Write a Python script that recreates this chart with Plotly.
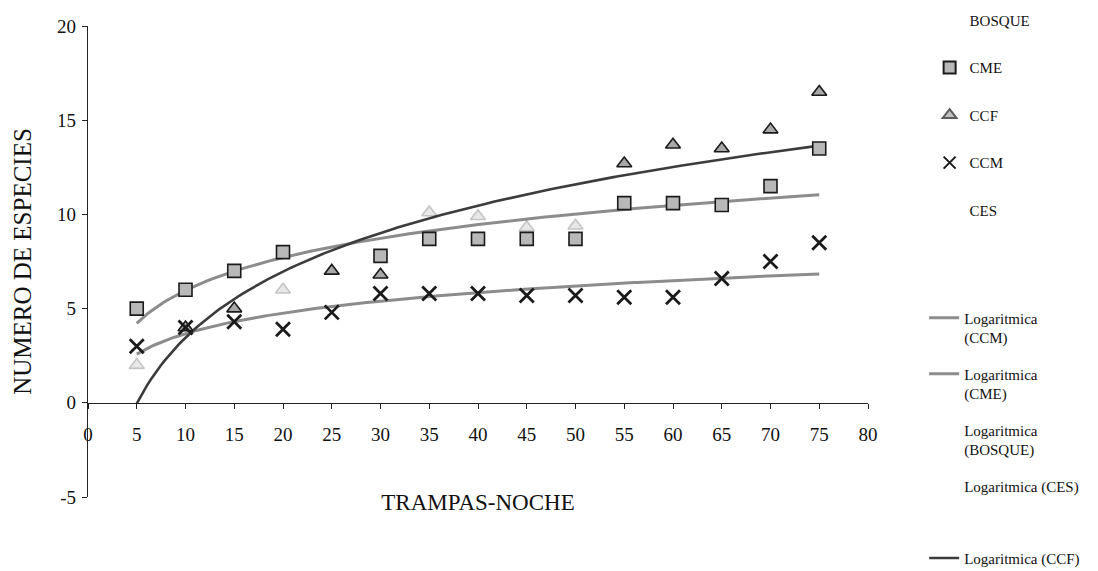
import numpy as np
import plotly.graph_objects as go

# Trap-nights (x) and cumulative species counts per forest type
trampas = [5, 10, 15, 20, 25, 30, 35, 40, 45, 50, 55, 60, 65, 70, 75]
cme = [5, 6, 7, 8, None, 7.8, 8.7, 8.7, 8.7, 8.7, 10.6, 10.6, 10.5, 11.5, 13.5]
ccf = [2, 4, 5, 6, 7, 6.8, 10.1, 9.9, 9.3, 9.4, 12.7, 13.7, 13.5, 14.5, 16.5]
ccm = [3, 4, 4.3, 3.9, 4.8, 5.8, 5.8, 5.8, 5.7, 5.7, 5.6, 5.6, 6.6, 7.5, 8.5]
# BOSQUE and CES are listed in the key but print no readable marks
bosque = [None]
ces = [None]

x_ticks = list(range(0, 85, 5))
y_ticks = [-5, 0, 5, 10, 15, 20]
y_tick_text = ["-5", "0", "5", "10", "15", "20"]

# trap-night counts whose CCF marks print only faintly
ccf_faint_at = [5, 20, 35, 40, 45, 50]

FONT = "Liberation Serif"


def log_fit(xs, ys):
    """Least-squares fit y = a + b*ln(x), as in a spreadsheet 'Logaritmica' trendline."""
    pts = [(x, y) for x, y in zip(xs, ys) if y is not None]
    if len(pts) < 2:
        return [None], [None]
    px = np.array([p[0] for p in pts], dtype=float)
    py = np.array([p[1] for p in pts], dtype=float)
    b, a = np.polyfit(np.log(px), py, 1)
    xf = np.linspace(min(xs), max(xs), 200)
    return xf, a + b * np.log(xf)


fig = go.Figure()

# --- logarithmic trendlines (lower keys), drawn beneath the markers ---
trend_specs = [
    ("Logaritmica<br>(CCM)", ccm, "#8c8c8c", 3, "legend2"),
    ("Logaritmica<br>(CME)", cme, "#8c8c8c", 3, "legend2"),
    ("Logaritmica<br>(BOSQUE)", bosque, "rgba(0,0,0,0)", 3, "legend2"),
    ("Logaritmica (CES)", ces, "rgba(0,0,0,0)", 3, "legend2"),
    ("Logaritmica (CCF)", ccf, "#3c3c3c", 2.6, "legend3"),
]
for i, (label, series, color, width, key) in enumerate(trend_specs):
    xf, yf = log_fit(trampas[:len(series)], series)
    fig.add_trace(go.Scatter(x=xf, y=yf, name=label, mode="lines",
                             line=dict(color=color, width=width),
                             legend=key, legendgroup=f"trend{i}"))

# --- marker series (upper key) ---
fig.add_trace(go.Scatter(x=trampas[:len(bosque)], y=bosque, name="BOSQUE", mode="markers",
                         marker=dict(symbol="circle", size=9, color="rgba(0,0,0,0)"),
                         legend="legend", legendgroup="bosque"))
fig.add_trace(go.Scatter(x=trampas, y=cme, name="CME", mode="markers",
                         marker=dict(symbol="square", size=13, color="#b8b8b8",
                                     line=dict(color="#1a1a1a", width=1.6)),
                         legend="legend", legendgroup="cme"))
fig.add_trace(go.Scatter(x=trampas, y=ccf, name="CCF", mode="markers",
                         marker=dict(symbol="triangle-up", size=13, color="#a8a8a8",
                                     opacity=[0.25 if t in ccf_faint_at else 1 for t in trampas],
                                     line=dict(color="#1a1a1a", width=1.6)),
                         legend="legend", legendgroup="ccf"))
fig.add_trace(go.Scatter(x=trampas, y=ccm, name="CCM", mode="markers",
                         marker=dict(symbol="x-thin", size=14,
                                     line=dict(color="#1a1a1a", width=2.8)),
                         legend="legend", legendgroup="ccm"))
fig.add_trace(go.Scatter(x=trampas[:len(ces)], y=ces, name="CES", mode="markers",
                         marker=dict(symbol="circle", size=9, color="rgba(0,0,0,0)"),
                         legend="legend", legendgroup="ces"))

key_style = dict(xanchor="left", yanchor="top", font=dict(size=15, family=FONT),
                 bgcolor="rgba(0,0,0,0)", valign="top")

fig.update_layout(
    template="none",
    width=1098, height=571,
    margin=dict(l=88, r=230, t=26, b=74, autoexpand=False),
    paper_bgcolor="white", plot_bgcolor="white",
    font=dict(family=FONT, color="#111111", size=15),
    xaxis=dict(range=[0, 80], tickvals=x_ticks, anchor="free", position=0.2,
               showline=True, linecolor="#222222", linewidth=1,
               ticks="outside", ticklen=5, tickcolor="#222222",
               tickfont=dict(size=19, family=FONT), ticklabelstandoff=9,
               showgrid=False, zeroline=False, automargin=False,
               title=dict(text="TRAMPAS-NOCHE", font=dict(size=23, family=FONT),
                          standoff=50)),
    yaxis=dict(range=[-5, 20], tickvals=y_ticks, ticktext=y_tick_text,
               showline=True, linecolor="#222222", linewidth=1.3,
               ticks="outside", ticklen=5, tickcolor="#222222",
               tickfont=dict(size=19, family=FONT), ticklabelstandoff=2,
               showgrid=False, zeroline=False, automargin=False,
               title=dict(text="NUMERO DE ESPECIES", font=dict(size=25, family=FONT),
                          standoff=18)),
    legend=dict(x=1.079, y=1.047, tracegroupgap=25, itemsizing="constant", **key_style),
    legend2=dict(x=1.072, y=0.415, tracegroupgap=14, **key_style),
    legend3=dict(x=1.072, y=-0.095, **key_style),
)

fig.write_html("out.html")
